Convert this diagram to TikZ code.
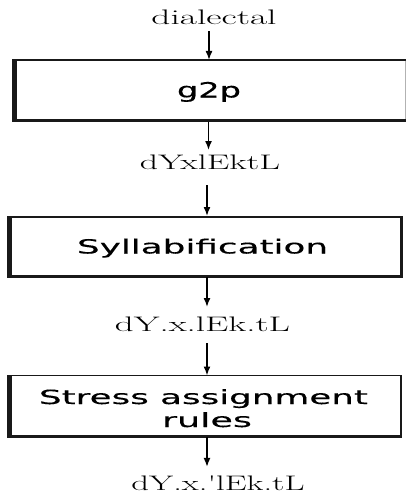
\documentclass[tikz,border=0pt]{standalone}
\usepackage{fontspec}
\usepackage{graphicx}
\newfontfamily\boxfont[FakeBold=0.3]{DejaVu Sans}
\usetikzlibrary{arrows.meta}
\newcommand{\wtext}[2]{\resizebox{#1pt}{\height}{#2}}
\tikzset{
  lab/.style={anchor=base, inner sep=0pt, outer sep=0pt, font=\fontsize{21}{24}\selectfont},
  boxtext/.style={anchor=base, inner sep=0pt, outer sep=0pt, font=\boxfont\fontsize{19.5}{23}\selectfont},
  stage/.style={draw=black!90, line width=1.3pt, inner sep=0pt, outer sep=0pt, fill=white},
  arr/.style={line width=1.6pt, -{Latex[length=9pt,width=7pt]}},
  heavyside/.style={fill=black!90},
}
\begin{document}
\begin{tikzpicture}[x=1pt,y=-1pt]
\useasboundingbox (0,0) rectangle (406,495);
% boxes
\node[stage, minimum width=392.5pt, minimum height=61.5pt] (box1) at (209.25,90.75) {};
\node[stage, minimum width=394.5pt, minimum height=60pt] (box2) at (204.75,247) {};
\node[stage, minimum width=394pt, minimum height=61.5pt] (box3) at (204.5,406.25) {};
% heavy sides of the boxes
\foreach \b in {box1,box2,box3}{
  \fill[heavyside] ([xshift=-0.6pt,yshift=0.6pt]\b.north west) rectangle ([xshift=4pt,yshift=-0.6pt]\b.south west);
  \fill[heavyside] ([xshift=-0.6pt,yshift=2.4pt]\b.south west) rectangle ([xshift=0.6pt,yshift=-0.6pt]\b.south east);
}
\foreach \b in {box2,box3}{
  \fill[heavyside] ([xshift=-1.8pt,yshift=0.6pt]\b.north east) rectangle ([xshift=0.6pt,yshift=-0.6pt]\b.south east);
}
\draw[black!30, line width=1.4pt] ([yshift=-0.7pt]box1.north east) -- ([yshift=2.4pt]box1.south east);
% texts
\node[lab] (lab0) at (214,25) {\wtext{125}{dialectal}};
\node[boxtext, font=\boxfont\fontsize{21}{24}\selectfont] (g2p) at (209,97.5) {\wtext{64}{g2p}};
\node[lab] (lab1) at (210,169) {\wtext{140}{dYxlEktL}};
\node[boxtext] (syl) at (202.5,253.5) {\wtext{251}{Syllabification}};
\node[lab] (lab2) at (202.5,331) {\wtext{175}{dY.x.lEk.tL}};
\node[boxtext] (str1) at (203.5,404) {\wtext{329}{Stress assignment}};
\node[boxtext] (str2) at (207,427) {\wtext{90}{rules}};
\node[lab] (lab3) at (218,490) {\wtext{173}{dY.x.\textquotesingle lEk.tL}};
% arrow columns
\coordinate (ax1) at (209,0);
\coordinate (ax2) at (208.5,0);
\coordinate (ax3) at (207,0);
% arrows
\draw[arr, shorten <=6pt] (lab0.south -| ax1) -- (box1.north -| ax1);
\draw[arr, shorten >=4.4pt] (box1.south -| ax2) -- (lab1.north -| ax2);
\draw[arr, shorten <=16pt, shorten >=1pt] (lab1.south -| ax3) -- (box2.north -| ax3);
\draw[arr, shorten >=9.4pt] (box2.south -| ax3) -- (lab2.north -| ax3);
\draw[arr, shorten <=12pt] (lab2.south -| ax3) -- (box3.north -| ax3);
\draw[arr, shorten >=8.4pt] (box3.south -| ax3) -- (lab3.north -| ax3);
\end{tikzpicture}
\end{document}
